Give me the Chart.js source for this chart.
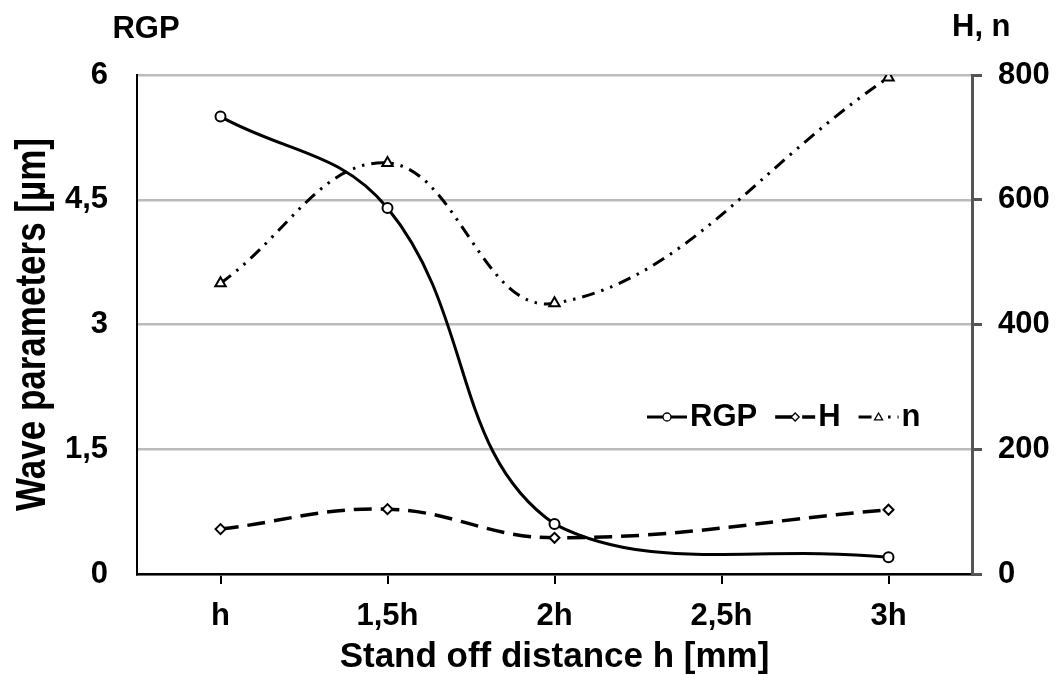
<!DOCTYPE html>
<html lang="en">
<head>
  <meta charset="UTF-8">
  <title>Wave parameters vs stand off distance</title>
  <script src="https://cdn.jsdelivr.net/npm/chart.js"></script>
  <style>
    * { box-sizing: border-box; }
    body { margin: 0; background: #fff; }
    .wrap { position: relative; width: 1058px; height: 675px; }
  </style>
</head>
<body>
  <div class="wrap"><canvas id="grafico"></canvas></div>

  <script>
    // data
    const categories = ['h', '1,5h', '2h', '2,5h', '3h'];
    const rgpValues = [5.5, 4.4, 0.6, null, 0.2];
    const hValues = [72, 104, 58, null, 103];
    const nValues = [466, 659, 434, null, 796];
    const leftTicks = [0, 1.5, 3, 4.5, 6];
    const leftTickLabels = ['0', '1,5', '3', '4,5', '6'];
    const rightTicks = [0, 200, 400, 600, 800];
    const rightTickLabels = ['0', '200', '400', '600', '800'];

    const FONT = "'Liberation Sans', Arial, sans-serif";

    function drawMarker(ctx, style, x, y, r) {
      ctx.beginPath();
      if (style === 'circle') {
        ctx.arc(x, y, r, 0, Math.PI * 2);
      } else if (style === 'rectRot') {
        ctx.moveTo(x, y - r); ctx.lineTo(x + r, y); ctx.lineTo(x, y + r); ctx.lineTo(x - r, y);
        ctx.closePath();
      } else {
        ctx.moveTo(x, y - r); ctx.lineTo(x + r, y + r * 0.7); ctx.lineTo(x - r, y + r * 0.7);
        ctx.closePath();
      }
      ctx.fillStyle = '#fff';
      ctx.fill();
      ctx.stroke();
    }

    // legend sits inside the plot, like the original
    const legendInside = {
      id: 'legendInside',
      afterDraw(chart) {
        const ctx = chart.ctx;
        const area = chart.chartArea;
        let x = area.left + 510;
        const y = area.top + 342;
        ctx.save();
        ctx.font = 'bold 31px ' + FONT;
        ctx.textBaseline = 'middle';
        ctx.textAlign = 'left';
        chart.data.datasets.forEach(ds => {
          ctx.strokeStyle = '#000';
          ctx.lineWidth = ds.borderWidth;
          ctx.setLineDash(ds.borderDash || []);
          ctx.beginPath();
          ctx.moveTo(x, y);
          ctx.lineTo(x + 40, y);
          ctx.stroke();
          ctx.setLineDash([]);
          ctx.lineWidth = 1.3;
          drawMarker(ctx, ds.pointStyle, x + 20, y, 4);
          ctx.fillStyle = '#000';
          ctx.fillText(ds.label, x + 43, y);
          x += 43 + ctx.measureText(ds.label).width + 18;
        });
        ctx.restore();
      }
    };

    const titles = {
      id: 'titles',
      afterDraw(chart) {
        const ctx = chart.ctx;
        const area = chart.chartArea;
        ctx.save();
        ctx.fillStyle = '#000';
        ctx.textBaseline = 'alphabetic';
        ctx.font = 'bold 31px ' + FONT;
        ctx.textAlign = 'center';
        ctx.fillText('RGP', 146, 38);
        ctx.textAlign = 'left';
        ctx.fillText('H, n', 952, 36);
        ctx.font = 'bold 35px ' + FONT;
        ctx.textAlign = 'center';
        ctx.fillText('Stand off distance h [mm]', (area.left + area.right) / 2, 667);
        ctx.translate(45, (area.top + area.bottom) / 2);
        ctx.rotate(-Math.PI / 2);
        ctx.scale(1, 1.2);
        ctx.fillText('Wave parameters [µm]', 0, 0);
        ctx.restore();
      }
    };

    const tickFont = { family: FONT, size: 31, weight: 'bold' };

    new Chart(document.getElementById('grafico'), {
      type: 'line',
      data: {
        labels: categories,
        datasets: [{
          label: 'RGP',
          data: rgpValues,
          yAxisID: 'y',
          borderColor: '#000',
          borderWidth: 3,
          pointStyle: 'circle',
          pointRadius: 5,
          pointBorderWidth: 2,
          pointBackgroundColor: '#fff',
          pointBorderColor: '#000'
        }, {
          label: 'H',
          data: hValues,
          yAxisID: 'y2',
          borderColor: '#000',
          borderWidth: 3.5,
          borderDash: [18, 9],
          pointStyle: 'rectRot',
          pointRadius: 5,
          pointBorderWidth: 2,
          pointBackgroundColor: '#fff',
          pointBorderColor: '#000'
        }, {
          label: 'n',
          data: nValues,
          yAxisID: 'y2',
          borderColor: '#000',
          borderWidth: 3,
          borderDash: [13, 7, 2.5, 7, 2.5, 7],
          pointStyle: 'triangle',
          pointRadius: 6,
          pointBorderWidth: 2,
          pointBackgroundColor: '#fff',
          pointBorderColor: '#000'
        }]
      },
      options: {
        responsive: true,
        maintainAspectRatio: false,
        animation: false,
        devicePixelRatio: 1,
        spanGaps: true,
        elements: { line: { tension: 0.4, fill: false } },
        layout: { padding: { top: 75, left: 0, right: 0, bottom: 0 } },
        plugins: {
          legend: { display: false },
          tooltip: { enabled: false }
        },
        scales: {
          x: {
            offset: true,
            afterFit(scale) { scale.height = 101; },
            grid: {
              offset: false,
              drawOnChartArea: false,
              drawTicks: true,
              tickLength: 10,
              color: '#000',
              lineWidth: 2
            },
            border: { color: '#000', width: 2.5 },
            ticks: { color: '#000', font: tickFont, padding: 14, maxRotation: 0 }
          },
          y: {
            position: 'left',
            min: 0,
            max: 6,
            afterFit(scale) { scale.width = 137; },
            afterBuildTicks(scale) { scale.ticks = leftTicks.map(v => ({ value: v })); },
            grid: { color: '#bbb', lineWidth: 2.5, drawTicks: false },
            border: { color: '#000', width: 2 },
            ticks: {
              color: '#000',
              font: tickFont,
              padding: 29,
              callback: v => leftTickLabels[leftTicks.indexOf(v)]
            }
          },
          y2: {
            position: 'right',
            min: 0,
            max: 800,
            afterFit(scale) { scale.width = 86; },
            afterBuildTicks(scale) { scale.ticks = rightTicks.map(v => ({ value: v })); },
            grid: { drawOnChartArea: false, tickLength: 10, color: '#555', lineWidth: 3 },
            border: { color: '#555', width: 3 },
            ticks: {
              color: '#000',
              font: tickFont,
              padding: 16,
              callback: v => rightTickLabels[rightTicks.indexOf(v)]
            }
          }
        }
      },
      plugins: [legendInside, titles]
    });
  </script>
</body>
</html>
